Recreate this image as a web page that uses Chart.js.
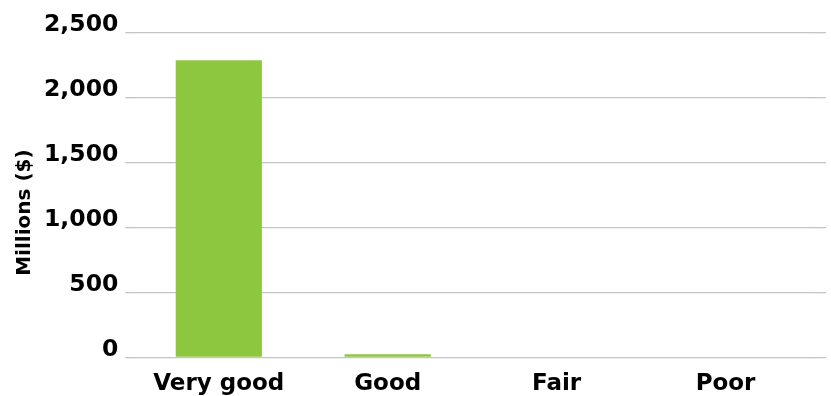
<!DOCTYPE html>
<html>
<head>
<meta charset="utf-8">
<script src="https://cdn.jsdelivr.net/npm/chart.js@4/dist/chart.umd.min.js"></script>
<style>
html,body{margin:0;padding:0;background:#fff;}
#wrap{width:831px;height:396px;}
</style>
</head>
<body>
<div id="wrap"><canvas id="c" width="831" height="396"></canvas></div>
<script>
const categories = ["Very good", "Good", "Fair", "Poor"];
const values = [2290, 25, 0, 0];
const yTicks = [0, 500, 1000, 1500, 2000, 2500];
const yTitle = "Millions ($)     ";

const FONT = "'DejaVu Sans', sans-serif";
const gridColor = "#c4c4c4";

new Chart(document.getElementById("c"), {
  type: "bar",
  data: {
    labels: categories,
    datasets: [{
      data: values,
      backgroundColor: "#8dc63f",
      borderWidth: 0,
      categoryPercentage: 1.0,
      barPercentage: 0.51,
      yAxisID: "y"
    }]
  },
  options: {
    responsive: false,
    animation: false,
    devicePixelRatio: 1,
    layout: { padding: { top: 33, right: 5, left: 3, bottom: -15 } },
    plugins: { legend: { display: false }, tooltip: { enabled: false } },
    scales: {
      x: {
        grid: { display: false, drawTicks: false },
        border: { display: false },
        ticks: {
          color: "#000",
          padding: 13,
          font: { family: FONT, size: 23, weight: "bold" }
        }
      },
      y: {
        position: "left",
        min: 0,
        max: 2500,
        afterBuildTicks: s => { s.ticks = yTicks.map(v => ({ value: v })); },
        grid: { color: gridColor, lineWidth: 1.3, drawTicks: true, tickLength: 9, tickColor: gridColor },
        border: { display: false },
        title: {
          display: true,
          text: yTitle,
          color: "#000",
          padding: { top: 10, bottom: 0 },
          font: { family: FONT, size: 20, weight: "bold" }
        },
        ticks: {
          color: "#000",
          padding: 7,
          labelOffset: -8,
          font: { family: FONT, size: 23.5, weight: "bold" },
          callback: v => v.toLocaleString("en-US")
        }
      },
      y2: {
        position: "right",
        min: 0,
        max: 2500,
        afterBuildTicks: s => { s.ticks = yTicks.map(v => ({ value: v })); },
        grid: { drawOnChartArea: false, drawTicks: true, tickLength: 16, tickColor: gridColor, lineWidth: 1.3 },
        border: { display: false },
        ticks: { display: false }
      }
    }
  }
});
</script>
</body>
</html>
